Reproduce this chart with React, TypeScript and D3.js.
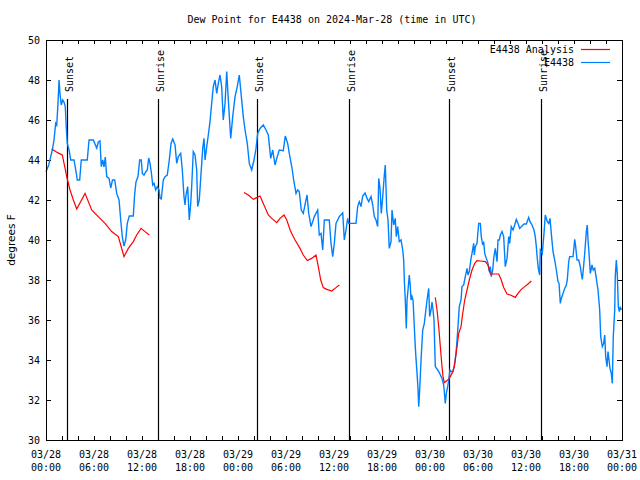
import React from 'react';
import * as d3 from 'd3';

// Hours since 2024-03-28 00:00 UTC, dew point (F)
const observed: [number, number][] = [
[0.0,43.4],[0.09,43.5],[0.34,43.75],[0.59,44.17],[0.79,44.5],[1.0,45.0],[1.21,45.83],[1.34,45.75],[1.5,46.83],[1.63,48.0],[1.75,47.3],[1.91,46.75],[2.09,47.0],[2.25,46.9],[2.41,46.67],[2.54,45.6],[2.66,44.83],[2.88,44.5],[3.09,44.0],[3.5,44.0],[3.79,43.33],[3.91,43.0],[4.21,43.0],[4.41,44.0],[5.16,44.0],[5.38,45.0],[5.91,45.0],[6.34,44.6],[6.54,44.9],[6.75,44.95],[6.91,43.67],[7.09,44.0],[7.25,43.65],[7.41,44.15],[7.59,43.17],[7.88,43.08],[8.09,42.6],[8.31,43.0],[8.59,43.0],[8.84,42.33],[9.13,42.0],[9.34,41.0],[9.54,40.15],[9.75,39.7],[9.96,40.0],[10.16,40.83],[10.41,41.2],[10.91,41.2],[11.09,42.33],[11.25,42.9],[11.5,43.17],[11.71,44.0],[11.91,44.0],[12.04,43.33],[12.25,43.25],[12.46,43.4],[12.66,43.5],[12.84,44.1],[13.0,43.83],[13.16,43.4],[13.34,42.75],[13.5,42.83],[13.71,42.5],[13.91,42.67],[14.13,42.5],[14.25,42.08],[14.41,42.05],[14.66,43.0],[14.88,43.17],[15.16,43.25],[15.41,44.0],[15.63,44.83],[15.84,45.05],[16.13,44.75],[16.34,43.83],[16.54,44.17],[16.84,44.33],[17.04,43.5],[17.25,42.17],[17.38,41.75],[17.5,42.25],[17.71,42.67],[17.91,41.0],[18.09,41.83],[18.21,42.67],[18.41,44.42],[18.63,44.25],[18.84,43.5],[18.96,41.67],[19.16,42.0],[19.38,43.33],[19.59,44.58],[19.75,45.08],[19.88,44.0],[20.09,44.67],[20.29,45.25],[20.5,45.92],[20.71,46.83],[20.91,47.67],[21.13,48.0],[21.34,47.33],[21.54,47.83],[21.75,48.25],[21.96,47.67],[22.16,46.0],[22.38,46.83],[22.59,48.42],[22.79,47.0],[23.09,45.08],[23.34,46.17],[23.63,47.17],[23.91,47.67],[24.16,48.25],[24.38,47.33],[24.66,46.17],[24.88,45.5],[25.16,44.83],[25.41,43.83],[25.71,43.5],[26.0,44.0],[26.25,44.58],[26.46,45.33],[26.75,45.58],[27.16,45.75],[27.5,45.5],[27.79,45.25],[28.09,44.08],[28.34,44.5],[28.63,43.75],[28.91,44.17],[29.16,44.5],[29.66,44.47],[29.91,45.2],[30.21,44.83],[30.41,44.33],[30.75,43.6],[30.96,43.0],[31.25,42.33],[31.46,42.5],[31.66,42.42],[31.91,41.5],[32.16,41.33],[32.41,41.83],[32.63,42.25],[32.84,41.33],[33.13,40.67],[33.34,40.92],[33.54,41.17],[33.96,41.5],[34.16,40.25],[34.38,40.33],[34.59,39.5],[34.79,41.0],[35.41,41.0],[35.63,39.83],[35.84,39.17],[36.04,39.83],[36.25,40.83],[36.66,41.17],[37.09,41.35],[37.29,40.0],[37.5,40.5],[37.71,41.08],[37.84,40.83],[38.75,40.83],[38.96,41.67],[39.16,41.92],[39.38,41.67],[39.59,42.2],[39.88,42.35],[40.13,42.08],[40.34,41.92],[40.63,42.17],[40.84,41.75],[41.04,41.17],[41.25,41.0],[41.46,40.67],[41.59,43.08],[41.75,42.6],[41.91,41.33],[42.09,42.17],[42.29,43.25],[42.41,43.75],[42.59,41.5],[42.75,41.0],[42.91,39.58],[43.13,39.92],[43.25,41.5],[43.46,40.75],[43.66,41.08],[43.79,40.17],[43.96,40.67],[44.16,39.92],[44.38,40.0],[44.59,39.5],[44.71,39.0],[44.79,38.0],[44.91,37.0],[45.04,35.58],[45.13,37.0],[45.25,37.5],[45.41,38.25],[45.54,37.67],[45.63,37.0],[45.75,37.17],[45.88,37.0],[45.96,36.33],[46.09,35.25],[46.16,34.67],[46.25,34.08],[46.38,33.33],[46.5,32.58],[46.59,31.67],[46.71,32.5],[46.88,34.0],[47.09,35.5],[47.29,35.83],[47.41,36.25],[47.63,37.0],[47.84,37.58],[47.96,36.17],[48.13,36.5],[48.25,36.9],[48.38,36.5],[48.5,36.0],[48.59,34.67],[48.66,33.67],[48.96,33.5],[49.21,33.33],[49.5,33.08],[49.71,32.75],[49.84,32.17],[49.91,31.83],[50.04,32.33],[50.21,32.67],[50.34,33.0],[50.5,33.5],[50.66,33.42],[50.88,33.42],[51.09,33.83],[51.25,34.33],[51.38,35.0],[51.5,35.67],[51.66,36.67],[51.88,37.0],[52.0,37.67],[52.21,37.75],[52.41,38.17],[52.63,38.58],[52.75,38.25],[52.91,38.42],[53.13,39.08],[53.25,39.33],[53.46,39.83],[53.54,39.25],[53.66,39.67],[53.88,39.83],[53.96,40.25],[54.09,40.83],[54.29,40.83],[54.41,40.17],[54.59,39.75],[54.71,39.92],[54.84,39.33],[55.04,39.08],[55.25,38.83],[55.41,38.42],[55.54,38.67],[55.66,38.17],[55.84,38.5],[55.96,39.08],[56.16,39.58],[56.38,38.92],[56.5,40.0],[56.66,40.0],[56.79,40.25],[57.0,40.42],[57.21,40.17],[57.41,38.67],[57.63,39.08],[57.84,40.17],[57.96,39.83],[58.16,40.67],[58.38,40.5],[58.59,40.75],[58.79,41.03],[59.0,40.83],[59.21,40.58],[59.5,40.7],[59.75,40.8],[60.04,40.8],[60.34,41.13],[60.5,40.92],[60.75,40.75],[61.0,40.5],[61.16,40.17],[61.29,39.67],[61.41,39.08],[61.54,38.58],[61.71,38.25],[61.79,39.5],[62.04,39.33],[62.25,40.33],[62.41,41.25],[62.66,40.92],[62.84,40.83],[63.0,41.08],[63.16,40.33],[63.38,39.42],[63.59,39.0],[63.79,38.5],[64.0,37.92],[64.13,37.83],[64.29,36.83],[64.41,37.08],[64.63,37.33],[64.84,37.58],[65.04,37.75],[65.16,38.0],[65.34,38.92],[65.46,39.17],[65.88,39.17],[66.09,40.03],[66.21,39.67],[66.38,39.0],[66.59,39.0],[66.79,38.67],[66.91,38.33],[67.04,38.03],[67.16,38.5],[67.34,39.33],[67.54,40.42],[67.66,40.75],[67.75,40.0],[67.88,39.33],[68.04,38.33],[68.25,38.75],[68.41,38.5],[68.59,38.58],[68.79,38.08],[69.0,37.5],[69.21,36.5],[69.34,35.17],[69.54,34.67],[69.71,34.83],[69.84,35.25],[69.96,34.17],[70.13,33.67],[70.25,34.42],[70.38,34.0],[70.5,33.58],[70.66,33.33],[70.79,32.83],[70.91,35.17],[71.09,36.5],[71.16,38.17],[71.29,39.0],[71.41,38.33],[71.54,36.67],[71.66,36.42],[71.79,36.67],[71.91,36.5]
];

const analysisPart1: [number, number][] = [
[0.71,44.55],[1.21,44.42],[1.63,44.33],[2.04,44.25],[2.34,43.67],[2.59,43.17],[3.0,42.5],[3.42,42.0],[3.84,41.55],[4.88,42.33],[5.71,41.5],[6.75,41.08],[7.38,40.83],[8.21,40.42],[9.04,40.17],[9.34,39.75],[9.75,39.17],[10.29,39.58],[10.91,39.92],[11.34,40.25],[11.88,40.58],[12.38,40.42],[12.91,40.25]
];
const analysisPart2: [number, number][] = [
[24.75,42.38],[25.29,42.25],[25.91,42.03],[26.34,42.12],[26.75,42.2],[27.16,41.83],[27.79,41.25],[28.21,41.08],[28.84,40.87],[29.25,41.08],[29.75,41.25],[30.09,41.0],[30.59,40.42],[31.13,40.0],[31.75,39.58],[32.16,39.25],[32.66,38.97],[33.21,39.08],[33.75,39.25],[34.04,38.67],[34.34,38.0],[34.66,37.62],[35.09,37.53],[35.71,37.45],[36.25,37.62],[36.66,37.75]
];
const analysisPart3: [number, number][] = [
[48.66,37.13],[48.88,36.5],[49.09,35.67],[49.29,34.67],[49.5,33.67],[49.63,33.17],[49.79,32.87],[50.13,32.97],[50.41,33.08],[50.75,33.33],[51.04,33.67],[51.38,34.67],[51.59,35.33],[51.88,35.67],[52.09,36.33],[52.34,37.0],[52.63,37.5],[52.91,38.0],[53.25,38.5],[53.59,38.83],[53.88,38.97],[54.29,38.95],[54.91,38.92],[55.25,38.75],[55.54,38.3],[55.96,38.3],[56.59,38.3],[56.91,38.0],[57.21,37.63],[57.63,37.3],[58.04,37.25],[58.66,37.13],[59.0,37.33],[59.41,37.53],[59.84,37.67],[60.25,37.8],[60.66,37.95]
];

const sunEvents: { hour: number; label: string }[] = [
  { hour: 2.58, label: 'Sunset' },
  { hour: 14.04, label: 'Sunrise' },
  { hour: 26.42, label: 'Sunset' },
  { hour: 37.92, label: 'Sunrise' },
  { hour: 50.42, label: 'Sunset' },
  { hour: 61.92, label: 'Sunrise' },
];

const yTicks = [30, 32, 34, 36, 38, 40, 42, 44, 46, 48, 50];
const title = 'Dew Point for E4438 on 2024-Mar-28 (time in UTC)';
const yLabel = 'degrees F';
const legendItems = [
  { label: 'E4438 Analysis', color: '#ff0000' },
  { label: 'E4438', color: '#0080ff' },
];

const T0 = Date.UTC(2024, 2, 28, 0, 0);
const T1 = Date.UTC(2024, 2, 31, 0, 0);
const toDate = (h: number) => new Date(T0 + h * 3600 * 1000);

const MONO = '"DejaVu Sans Mono", "Liberation Mono", monospace';

export default function App() {
  const L = 46, R = 622, T = 40, B = 440;
  const x = d3.scaleUtc().domain([new Date(T0), new Date(T1)]).range([L, R]);
  const y = d3.scaleLinear().domain([30, 50]).range([B, T]);
  const line = d3.line<[number, number]>()
    .x(d => x(toDate(d[0])))
    .y(d => y(d[1]));

  const xTicks = d3.utcHour.every(2)!.range(new Date(T0), new Date(T1 + 1));
  const labelTicks = d3.utcHour.every(6)!.range(new Date(T0), new Date(T1 + 1));
  const fmtDate = d3.utcFormat('%m/%d');
  const fmtTime = d3.utcFormat('%H:%M');

  return (
    <svg width={640} height={480} style={{ position: 'absolute', left: 0, top: 0, background: '#fff' }}>
      <rect x={0} y={0} width={640} height={480} fill="#fff" />
      <text x={332} y={23} textAnchor="middle" fontFamily={MONO} fontSize={10} fill="#000">{title}</text>
      <text transform={`translate(15,${(T + B) / 2}) rotate(-90)`} textAnchor="middle" fontFamily='"DejaVu Sans", sans-serif' fontSize={10.5} fill="#000">{yLabel}</text>

      {/* y ticks */}
      {yTicks.map(v => (
        <g key={'y' + v}>
          <line x1={L} x2={L + 5} y1={Math.round(y(v)) + 0.5} y2={Math.round(y(v)) + 0.5} stroke="#000" />
          <line x1={R - 5} x2={R} y1={Math.round(y(v)) + 0.5} y2={Math.round(y(v)) + 0.5} stroke="#000" />
          <text x={40} y={y(v) + 3.5} textAnchor="end" fontFamily={MONO} fontSize={10} fill="#000">{v}</text>
        </g>
      ))}
      {/* x ticks */}
      {xTicks.map(t => (
        <g key={'x' + t.getTime()}>
          <line x1={Math.round(x(t)) + 0.5} x2={Math.round(x(t)) + 0.5} y1={B} y2={B - 4} stroke="#000" />
          <line x1={Math.round(x(t)) + 0.5} x2={Math.round(x(t)) + 0.5} y1={T} y2={T + 4} stroke="#000" />
        </g>
      ))}
      {labelTicks.map(t => (
        <g key={'xl' + t.getTime()}>
          <text x={x(t)} y={457.5} textAnchor="middle" fontFamily={MONO} fontSize={10} fill="#000">{fmtDate(t)}</text>
          <text x={x(t)} y={471} textAnchor="middle" fontFamily={MONO} fontSize={10} fill="#000">{fmtTime(t)}</text>
        </g>
      ))}

      {/* sun events */}
      {sunEvents.map((s, i) => {
        const sx = Math.round(x(toDate(s.hour))) + 0.5;
        return (
          <g key={'s' + i}>
            <line x1={sx} x2={sx} y1={99} y2={B} stroke="#000" strokeWidth={1.2} />
            <text transform={`translate(${sx + 5},92) rotate(-90)`} fontFamily={MONO} fontSize={10} fill="#000">{s.label}</text>
          </g>
        );
      })}

      {/* series */}
      <path d={line(observed) || ''} fill="none" stroke="#0080ff" strokeWidth={1.4} />
      {[analysisPart1, analysisPart2, analysisPart3].map((p, i) => (
        <path key={'a' + i} d={line(p) || ''} fill="none" stroke="#ff0000" strokeWidth={1.2} />
      ))}

      {/* border */}
      <rect x={L + 0.5} y={T + 0.5} width={R - L} height={B - T} fill="none" stroke="#000" />

      {/* legend */}
      {legendItems.map((it, i) => (
        <g key={'l' + i}>
          <text x={574} y={53 + i * 13} textAnchor="end" fontFamily={MONO} fontSize={10} fill="#000">{it.label}</text>
          <line x1={581} x2={610} y1={49.5 + i * 13} y2={49.5 + i * 13} stroke={it.color} strokeWidth={1.2} />
        </g>
      ))}
    </svg>
  );
}
